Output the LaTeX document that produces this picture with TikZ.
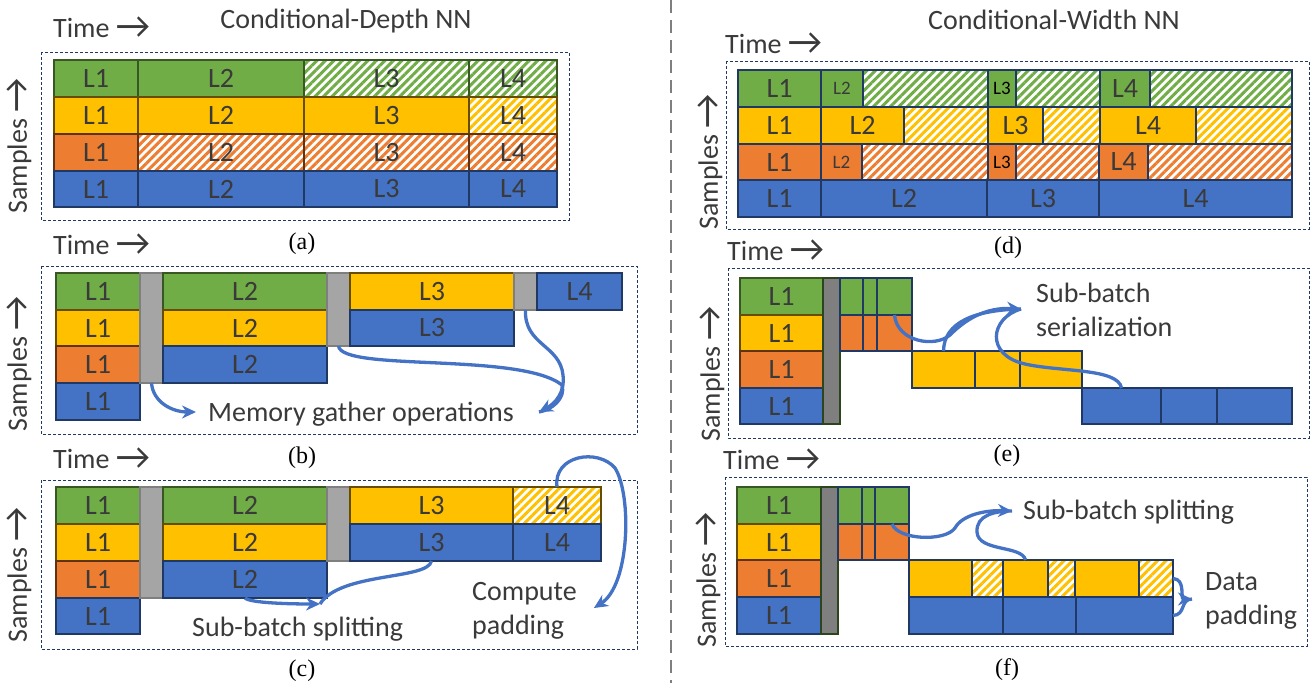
\documentclass[tikz,border=0pt]{standalone}
\usepackage{fontspec}
\setmainfont{Carlito}
\newfontfamily\serifcap{Liberation Serif}
\usepackage{graphicx}
\usepackage{tikz}
\usetikzlibrary{arrows.meta, patterns.meta}

\definecolor{cgreen}{HTML}{70AD47}
\definecolor{cyellow}{HTML}{FFC000}
\definecolor{corange}{HTML}{ED7D31}
\definecolor{cblue}{HTML}{4472C4}
\definecolor{cnavy}{HTML}{1F3864}
\definecolor{cgray}{HTML}{A5A5A5}
\definecolor{cdgray}{HTML}{7F7F7F}
\definecolor{txtgray}{HTML}{3A3A3A}

\newcommand\cellfont{\fontsize{28}{34}\selectfont}
\newcommand\tinylbl{\fontsize{19}{22}\selectfont}
\newcommand\rarr{\raisebox{-1.5pt}{\scalebox{1.35}{→}}}
% one cell of the schedule: name, x1, y1, x2, y2, style, text
\newcommand\cellbox[7]{\node[#6, minimum width={(#4-#2)*1pt}, minimum height={(#5-#3)*1pt}] (#1) at ({(#2+#4)/2},{(#3+#5)/2}) {#7};}

\begin{document}
\begin{tikzpicture}[
    x=1pt, y=-1pt,
    cb/.style={draw, inner sep=0pt, outer sep=0pt, line width=1.1pt, text=txtgray, font=\cellfont},
    gc/.style={cb, fill=cgreen, draw=cgreen!50!black},
    yc/.style={cb, fill=cyellow, draw=cyellow!40!black},
    oc/.style={cb, fill=corange, draw=corange!40!black},
    bc/.style={cb, fill=cblue, draw=cnavy},
    hatch/.style={cb, pattern={Lines[angle=45, distance=6pt, line width=3pt]}},
    gh/.style={hatch, pattern color=cgreen, draw=cgreen!50!black},
    yh/.style={hatch, pattern color=cyellow, draw=cyellow!40!black},
    oh/.style={hatch, pattern color=corange, draw=corange!40!black},
    gbar/.style={cb, fill=cgray, draw=cdgray},
    dbar/.style={cb, fill=cdgray, draw=cgreen!40!black},
    nv/.style={draw=cnavy},
    panelbox/.style={draw=cnavy, line width=0.9pt, dash pattern=on 3pt off 2pt},
    sepline/.style={draw=cdgray, line width=2pt, dash pattern=on 13pt off 7pt},
    lbl/.style={font=\cellfont, text=txtgray, inner sep=0pt},
    subcap/.style={font=\serifcap\fontsize{24}{28}\selectfont, text=black, inner sep=0pt},
    flow/.style={-{Stealth[length=14pt, width=13pt]}, line width=3.3pt, draw=cblue}
]
\useasboundingbox (0,0) rectangle (1310,683);

% headings and separator
\node[lbl, anchor=base] (hdepth) at (346,28) {Conditional-Depth NN};
\node[lbl, anchor=base] (hwidth) at (1054,29) {Conditional-Width NN};
\draw[sepline] (671,0) -- (671,683);

% (a)
\draw[panelbox] (41,52) rectangle (569,220);
\node[lbl, anchor=base west] (ta) at (53,37) {Time \rarr};
\node[lbl, rotate=90] (sa) at (19,146) {Samples \rarr};
\cellbox{a11}{54}{60}{138}{97}{gc}{L1}
\cellbox{a12}{138}{60}{304}{97}{gc}{L2}
\cellbox{a13}{304}{60}{469}{97}{gh}{L3}
\cellbox{a14}{469}{60}{557}{97}{gh}{L4}
\cellbox{a21}{54}{97}{138}{134}{yc}{L1}
\cellbox{a22}{138}{97}{304}{134}{yc}{L2}
\cellbox{a23}{304}{97}{469}{134}{yc}{L3}
\cellbox{a24}{469}{97}{557}{134}{yh}{L4}
\cellbox{a31}{54}{134}{138}{171}{oc}{L1}
\cellbox{a32}{138}{134}{304}{171}{oh}{L2}
\cellbox{a33}{304}{134}{469}{171}{oh}{L3}
\cellbox{a34}{469}{134}{557}{171}{oh}{L4}
\cellbox{a41}{54}{171}{138}{207}{bc}{L1}
\cellbox{a42}{138}{171}{304}{207}{bc}{L2}
\cellbox{a43}{304}{171}{469}{207}{bc}{L3}
\cellbox{a44}{469}{171}{557}{207}{bc}{L4}
\node[subcap] (capa) at (302,244) {(a)};

% (b)
\draw[panelbox] (41,266) rectangle (637,434);
\node[lbl, anchor=base west] (tb) at (53,254) {Time \rarr};
\node[lbl, rotate=90] (sb) at (19,364) {Samples \rarr};
\cellbox{b11}{56}{273}{140}{310}{gc}{L1}
\cellbox{b21}{56}{310}{140}{346}{yc}{L1}
\cellbox{b31}{56}{346}{140}{383}{oc}{L1}
\cellbox{b41}{56}{383}{140}{420}{bc}{L1}
\cellbox{bg1}{140}{273}{163}{383}{gbar}{}
\cellbox{b12}{163}{273}{327}{310}{gc}{L2}
\cellbox{b22}{163}{310}{327}{346}{yc}{L2}
\cellbox{b32}{163}{346}{327}{383}{bc}{L2}
\cellbox{bg2}{327}{273}{350}{346}{gbar}{}
\cellbox{b13}{350}{273}{514}{310}{yc}{L3}
\cellbox{b23}{350}{310}{514}{346}{bc}{L3}
\cellbox{bg3}{514}{273}{537}{310}{gbar}{}
\cellbox{b14}{537}{273}{622}{310}{bc}{L4}
\node[lbl, anchor=base west] (mem) at (208,421) {Memory gather operations};
\coordinate (memtipa) at ([shift={(-12,-9)}]mem.base west);
\coordinate (memtipb) at ([shift={(25,-9)}]mem.base east);
\draw[flow] (bg1.south) .. controls (153,402) and (172,412) .. (memtipa);
\draw[flow, -] (bg2.south) .. controls (342,372) and (520,352) .. (562,385) .. controls (566,398) and (552,410) .. (memtipb);
\draw[flow] (bg3.south) .. controls (524,345) and (560,345) .. (563,375) .. controls (565,392) and (556,403) .. (memtipb);
\node[subcap] (capb) at (302,458) {(b)};

% (c)
\draw[panelbox] (41,480) rectangle (637,649);
\node[lbl, anchor=base west] (tc) at (53,468) {Time \rarr};
\node[lbl, rotate=90] (sc) at (19,575) {Samples \rarr};
\cellbox{c11}{56}{487}{140}{524}{gc}{L1}
\cellbox{c21}{56}{524}{140}{561}{yc}{L1}
\cellbox{c31}{56}{561}{140}{598}{oc}{L1}
\cellbox{c41}{56}{598}{140}{634}{bc}{L1}
\cellbox{cg1}{140}{487}{163}{598}{gbar}{}
\cellbox{c12}{163}{487}{327}{524}{gc}{L2}
\cellbox{c22}{163}{524}{327}{561}{yc}{L2}
\cellbox{c32}{163}{561}{327}{598}{bc}{L2}
\cellbox{cg2}{327}{487}{350}{561}{gbar}{}
\cellbox{c13}{350}{487}{513}{524}{yc}{L3}
\cellbox{c23}{350}{524}{513}{561}{bc}{L3}
\cellbox{c14}{513}{487}{601}{524}{yh}{L4}
\cellbox{c24}{513}{524}{601}{561}{bc}{L4}
\node[lbl, anchor=base west] (split) at (192,636) {Sub-batch splitting};
\node[lbl, anchor=west, align=left] (comp) at (472,611) {Compute\\padding};
\coordinate (splittip) at ([shift={(128,-32)}]split.base west);
\coordinate (padtip) at ([shift={(17,-3)}]comp.east);
\draw[flow] (c32.south) .. controls (250,603) and (290,604) .. (splittip);
\draw[flow, -] (c23.south) .. controls (428,580) and (340,572) .. (splittip);
\draw[flow] (c14.north) .. controls (553,455) and (598,448) .. (615,468) .. controls (632,495) and (630,585) .. (padtip);
\node[subcap] (capc) at (302,671) {(c)};

% (d)
\draw[panelbox] (726,61) rectangle (1309,229);
\node[lbl, anchor=base west] (td) at (725,53) {Time \rarr};
\node[lbl, rotate=90] (sd) at (710,162) {Samples \rarr};
\cellbox{d11}{738}{70}{821}{107}{gc,nv}{L1}
\cellbox{d12}{821}{70}{863}{107}{gc,nv}{\tinylbl L2}
\cellbox{d12h}{863}{70}{988}{107}{gh,nv}{}
\cellbox{d13}{988}{70}{1016}{107}{gc,nv}{\tinylbl\color{black}L3}
\cellbox{d13h}{1016}{70}{1100}{107}{gh,nv}{}
\cellbox{d14}{1100}{70}{1150}{107}{gc,nv}{L4}
\cellbox{d14h}{1150}{70}{1292}{107}{gh,nv}{}
\cellbox{d21}{738}{107}{821}{144}{yc,nv}{L1}
\cellbox{d22}{821}{107}{904}{144}{yc,nv}{L2}
\cellbox{d22h}{904}{107}{988}{144}{yh,nv}{}
\cellbox{d23}{988}{107}{1043}{144}{yc,nv}{L3}
\cellbox{d23h}{1043}{107}{1100}{144}{yh,nv}{}
\cellbox{d24}{1100}{107}{1196}{144}{yc,nv}{L4}
\cellbox{d24h}{1196}{107}{1292}{144}{yh,nv}{}
\cellbox{d31}{738}{144}{821}{180}{oc,nv}{L1}
\cellbox{d32}{821}{144}{862}{180}{oc,nv}{\tinylbl L2}
\cellbox{d32h}{862}{144}{988}{180}{oh,nv}{}
\cellbox{d33}{988}{144}{1016}{180}{oc,nv}{\tinylbl\color{black}L3}
\cellbox{d33h}{1016}{144}{1099}{180}{oh,nv}{}
\cellbox{d34}{1099}{144}{1148}{180}{oc,nv}{L4}
\cellbox{d34h}{1148}{144}{1292}{180}{oh,nv}{}
\cellbox{d41}{738}{180}{821}{217}{bc}{L1}
\cellbox{d42}{821}{180}{987}{217}{bc}{L2}
\cellbox{d43}{987}{180}{1099}{217}{bc}{L3}
\cellbox{d44}{1099}{180}{1292}{217}{bc}{L4}
\node[subcap] (capd) at (1008,248) {(d)};

% (e)
\draw[panelbox] (728,268) rectangle (1309,438);
\node[lbl, anchor=base west] (te) at (727,260) {Time \rarr};
\node[lbl, rotate=90] (se) at (712,374) {Samples \rarr};
\cellbox{e1}{740}{278}{823}{315}{gc}{L1}
\cellbox{e2}{740}{315}{823}{351}{yc}{L1}
\cellbox{e3}{740}{351}{823}{388}{oc}{L1}
\cellbox{e4}{740}{388}{823}{424}{bc}{L1}
\cellbox{ebar}{823}{278}{840}{424}{dbar}{}
\cellbox{eg1}{840}{278}{863}{315}{gc,nv}{}
\cellbox{eg2}{863}{278}{877}{315}{gc,nv}{}
\cellbox{eg3}{877}{278}{912}{315}{gc,nv}{}
\cellbox{eo1}{840}{315}{863}{351}{oc,nv}{}
\cellbox{eo2}{863}{315}{877}{351}{oc,nv}{}
\cellbox{eo3}{877}{315}{912}{351}{oc,nv}{}
\cellbox{ey1}{912}{351}{975}{388}{yc,nv}{}
\cellbox{ey2}{975}{351}{1020}{388}{yc,nv}{}
\cellbox{ey3}{1020}{351}{1082}{388}{yc,nv}{}
\cellbox{eb1}{1082}{388}{1161}{424}{bc}{}
\cellbox{eb2}{1161}{388}{1217}{424}{bc}{}
\cellbox{eb3}{1217}{388}{1292}{424}{bc}{}
\node[lbl, anchor=west, align=left] (ser) at (1036,310) {Sub-batch\\serialization};
\coordinate (sertip) at ([shift={(-15,-1)}]ser.west);
\draw[flow] (eo3.north) .. controls (897,342) and (935,348) .. (950,335) .. controls (965,320) and (985,307) .. (sertip);
\draw[flow, -] (ey1.north) .. controls (944,322) and (975,310) .. (sertip);
\draw[flow, -] (eb1.north) .. controls (1118,368) and (1060,372) .. (1025,364) .. controls (985,355) and (990,318) .. (sertip);
\node[subcap] (cape) at (1007,456) {(e)};

% (f)
\draw[panelbox] (725,477) rectangle (1307,646);
\node[lbl, anchor=base west] (tf) at (723,469) {Time \rarr};
\node[lbl, rotate=90] (sf) at (708,580) {Samples \rarr};
\cellbox{f1}{737}{487}{821}{524}{gc}{L1}
\cellbox{f2}{737}{524}{821}{560}{yc}{L1}
\cellbox{f3}{737}{560}{821}{597}{oc}{L1}
\cellbox{f4}{737}{597}{821}{634}{bc}{L1}
\cellbox{fbar}{821}{487}{838}{634}{dbar}{}
\cellbox{fg1}{838}{487}{862}{524}{gc,nv}{}
\cellbox{fg2}{862}{487}{875}{524}{gc,nv}{}
\cellbox{fg3}{875}{487}{909}{524}{gc,nv}{}
\cellbox{fo1}{838}{524}{862}{560}{oc,nv}{}
\cellbox{fo2}{862}{524}{875}{560}{oc,nv}{}
\cellbox{fo3}{875}{524}{909}{560}{oc,nv}{}
\cellbox{fy1}{909}{560}{972}{597}{yc,nv}{}
\cellbox{fyh1}{972}{560}{1003}{597}{yh,nv}{}
\cellbox{fy2}{1003}{560}{1048}{597}{yc,nv}{}
\cellbox{fyh2}{1048}{560}{1075}{597}{yh,nv}{}
\cellbox{fy3}{1075}{560}{1139}{597}{yc,nv}{}
\cellbox{fyh3}{1139}{560}{1173}{597}{yh,nv}{}
\cellbox{fb1}{909}{597}{1003}{634}{bc}{}
\cellbox{fb2}{1003}{597}{1076}{634}{bc}{}
\cellbox{fb3}{1076}{597}{1173}{634}{bc}{}
\node[lbl, anchor=base west] (fsplit) at (1023,519) {Sub-batch splitting};
\node[lbl, anchor=west, align=left] (dpad) at (1205,601) {Data\\padding};
\coordinate (fsplittip) at ([shift={(-11,-8)}]fsplit.base west);
\coordinate (dptip) at ([shift={(-13,-2)}]dpad.west);
\draw[flow] (fo3.north) .. controls (898,540) and (945,542) .. (955,528) .. controls (962,515) and (985,510) .. (fsplittip);
\draw[flow, -] (fy2.north) .. controls (1022,545) and (978,552) .. (977,532) .. controls (976,515) and (995,511) .. (fsplittip);
\draw[flow] (fyh3.east) .. controls (1186,579) and (1180,599) .. (dptip);
\draw[flow, -] (fb3.east) .. controls (1186,615) and (1180,599) .. (dptip);
\node[subcap] (capf) at (1007,670) {(f)};
\end{tikzpicture}
\end{document}
